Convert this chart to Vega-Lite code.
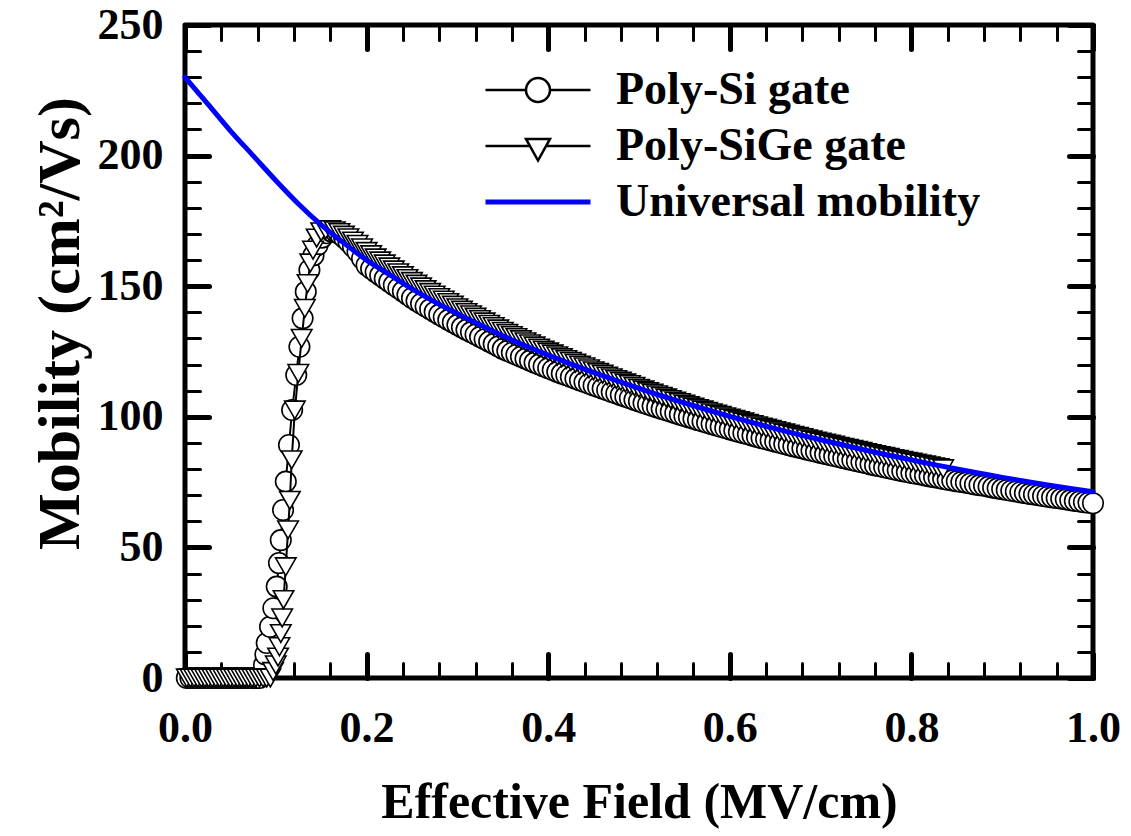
{
  "$schema": "https://vega.github.io/schema/vega-lite/v6.json",
  "width": 908,
  "height": 653,
  "autosize": {"type": "none"},
  "padding": {"left": 185, "top": 25, "right": 38, "bottom": 158},
  "background": "white",
  "config": {
    "view": {"stroke": "black", "strokeWidth": 5, "strokeJoin": "round"},
    "font": "Liberation Serif",
    "axis": {
      "labelFont": "Liberation Serif", "labelFontWeight": "bold", "labelFontSize": 44, "labelColor": "black", "labelFlush": false,
      "titleFont": "Liberation Serif", "titleFontWeight": "bold", "titleFontSize": 50, "titleColor": "black",
      "domain": false, "grid": false, "tickColor": "black", "tickCap": "round"
    },
    "legend": {"labelFont": "Liberation Serif", "labelFontWeight": "bold", "labelColor": "black"}
  },
  "datasets": {
    "si": [
      {"x":0.002,"y":0},{"x":0.006,"y":0},{"x":0.010,"y":0},{"x":0.014,"y":0},{"x":0.018,"y":0},{"x":0.022,"y":0},{"x":0.026,"y":0},{"x":0.030,"y":0},{"x":0.034,"y":0},{"x":0.038,"y":0},{"x":0.042,"y":0},{"x":0.046,"y":0},{"x":0.050,"y":0},{"x":0.054,"y":0},{"x":0.058,"y":0},{"x":0.062,"y":0},{"x":0.066,"y":0},{"x":0.070,"y":0},{"x":0.074,"y":0},{"x":0.078,"y":0},{"x":0.082,"y":0},
      {"x":0.085,"y":1.5},{"x":0.087,"y":5},{"x":0.0885,"y":9},{"x":0.090,"y":13.4},{"x":0.0936,"y":19.6},{"x":0.0973,"y":26.7},{"x":0.101,"y":35},{"x":0.1035,"y":44},{"x":0.1055,"y":52.8},{"x":0.108,"y":64.3},{"x":0.111,"y":75.2},{"x":0.1145,"y":89.2},{"x":0.118,"y":102.6},{"x":0.1225,"y":116},{"x":0.126,"y":126.8},{"x":0.1295,"y":137.7},{"x":0.133,"y":147.9},{"x":0.137,"y":156.2},{"x":0.1415,"y":161.8},{"x":0.146,"y":165.7},{"x":0.151,"y":168.6},{"x":0.156,"y":170.3},{"x":0.161,"y":171},{"x":0.166,"y":170.8},{"x":0.171,"y":169.8},{"x":0.1755,"y":168.5},
      {"x":0.18,"y":167},{"x":0.185,"y":165.1},{"x":0.19,"y":163.2},{"x":0.195,"y":160.6},{"x":0.20,"y":158},{"x":0.205,"y":156.7},{"x":0.21,"y":155.4},{"x":0.215,"y":154.15},{"x":0.22,"y":152.9},{"x":0.225,"y":151.65},{"x":0.23,"y":150.4},{"x":0.235,"y":149.2},{"x":0.24,"y":148},{"x":0.245,"y":146.75},{"x":0.25,"y":145.5},{"x":0.255,"y":144.4},{"x":0.26,"y":143.3},{"x":0.265,"y":142.25},{"x":0.27,"y":141.2},{"x":0.275,"y":140.15},{"x":0.28,"y":139.1},{"x":0.285,"y":138.1},{"x":0.29,"y":137.1},{"x":0.295,"y":136.15},{"x":0.30,"y":135.2},{"x":0.305,"y":134.25},{"x":0.31,"y":133.3},{"x":0.315,"y":132.4},{"x":0.32,"y":131.5},{"x":0.325,"y":130.6},{"x":0.33,"y":129.7},{"x":0.335,"y":128.8},{"x":0.34,"y":127.9},{"x":0.345,"y":126.95},{"x":0.35,"y":126},{"x":0.355,"y":125.25},{"x":0.36,"y":124.5},{"x":0.365,"y":123.75},{"x":0.37,"y":123},{"x":0.375,"y":122.25},{"x":0.38,"y":121.5},{"x":0.385,"y":120.75},{"x":0.39,"y":120},{"x":0.395,"y":119.3},{"x":0.40,"y":118.6},{"x":0.405,"y":117.9},{"x":0.41,"y":117.2},{"x":0.415,"y":116.55},{"x":0.42,"y":115.9},{"x":0.425,"y":115.25},{"x":0.43,"y":114.6},{"x":0.435,"y":113.95},{"x":0.44,"y":113.3},{"x":0.445,"y":112.65},{"x":0.45,"y":112},{"x":0.455,"y":111.4},{"x":0.46,"y":110.8},{"x":0.465,"y":110.15},{"x":0.47,"y":109.5},{"x":0.475,"y":108.9},{"x":0.48,"y":108.3},{"x":0.485,"y":107.7},{"x":0.49,"y":107.1},{"x":0.495,"y":106.5},{"x":0.50,"y":105.9},{"x":0.505,"y":105.3},{"x":0.51,"y":104.7},{"x":0.515,"y":104.15},{"x":0.52,"y":103.6},{"x":0.525,"y":103.05},{"x":0.53,"y":102.5},{"x":0.535,"y":101.95},{"x":0.54,"y":101.4},{"x":0.545,"y":100.85},{"x":0.55,"y":100.3},{"x":0.555,"y":99.8},{"x":0.56,"y":99.3},{"x":0.565,"y":98.75},{"x":0.57,"y":98.2},{"x":0.575,"y":97.7},{"x":0.58,"y":97.2},{"x":0.585,"y":96.7},{"x":0.59,"y":96.2},{"x":0.595,"y":95.7},{"x":0.60,"y":95.2},{"x":0.605,"y":94.7},{"x":0.61,"y":94.2},{"x":0.615,"y":93.75},{"x":0.62,"y":93.3},{"x":0.625,"y":92.8},{"x":0.63,"y":92.3},{"x":0.635,"y":91.85},{"x":0.64,"y":91.4},{"x":0.645,"y":90.95},{"x":0.65,"y":90.5},{"x":0.655,"y":90.05},{"x":0.66,"y":89.6},{"x":0.665,"y":89.15},{"x":0.67,"y":88.7},{"x":0.675,"y":88.3},{"x":0.68,"y":87.9},{"x":0.685,"y":87.45},{"x":0.69,"y":87},{"x":0.695,"y":86.6},{"x":0.70,"y":86.2},{"x":0.705,"y":85.8},{"x":0.71,"y":85.4},{"x":0.715,"y":85},{"x":0.72,"y":84.6},{"x":0.725,"y":84.2},{"x":0.73,"y":83.8},{"x":0.735,"y":83.4},{"x":0.74,"y":83},{"x":0.745,"y":82.6},{"x":0.75,"y":82.2},{"x":0.755,"y":81.8},{"x":0.76,"y":81.4},{"x":0.765,"y":81.05},{"x":0.77,"y":80.7},{"x":0.775,"y":80.3},{"x":0.78,"y":79.9},{"x":0.785,"y":79.55},{"x":0.79,"y":79.2},{"x":0.795,"y":78.85},{"x":0.80,"y":78.5},{"x":0.805,"y":78.2},{"x":0.81,"y":77.9},{"x":0.815,"y":77.55},{"x":0.82,"y":77.2},{"x":0.825,"y":76.9},{"x":0.83,"y":76.6},{"x":0.835,"y":76.25},{"x":0.84,"y":75.9},{"x":0.845,"y":75.6},{"x":0.85,"y":75.3},{"x":0.855,"y":75.05},{"x":0.86,"y":74.8},{"x":0.865,"y":74.45},{"x":0.87,"y":74.1},{"x":0.875,"y":73.85},{"x":0.88,"y":73.6},{"x":0.885,"y":73.25},{"x":0.89,"y":72.9},{"x":0.895,"y":72.6},{"x":0.90,"y":72.3},{"x":0.905,"y":72},{"x":0.91,"y":71.7},{"x":0.915,"y":71.4},{"x":0.92,"y":71.1},{"x":0.925,"y":70.8},{"x":0.93,"y":70.5},{"x":0.935,"y":70.25},{"x":0.94,"y":70},{"x":0.945,"y":69.7},{"x":0.95,"y":69.4},{"x":0.955,"y":69.15},{"x":0.96,"y":68.9},{"x":0.965,"y":68.65},{"x":0.97,"y":68.4},{"x":0.975,"y":68.1},{"x":0.98,"y":67.8},{"x":0.985,"y":67.55},{"x":0.99,"y":67.3},{"x":0.995,"y":67.1},{"x":1.00,"y":66.9}
    ],
    "sige": [
      {"x":0.002,"y":0},{"x":0.006,"y":0},{"x":0.010,"y":0},{"x":0.014,"y":0},{"x":0.018,"y":0},{"x":0.022,"y":0},{"x":0.026,"y":0},{"x":0.030,"y":0},{"x":0.034,"y":0},{"x":0.038,"y":0},{"x":0.042,"y":0},{"x":0.046,"y":0},{"x":0.050,"y":0},{"x":0.054,"y":0},{"x":0.058,"y":0},{"x":0.062,"y":0},{"x":0.066,"y":0},{"x":0.070,"y":0},{"x":0.074,"y":0},{"x":0.078,"y":0},{"x":0.082,"y":0},{"x":0.086,"y":0},{"x":0.090,"y":0},{"x":0.094,"y":0},
      {"x":0.097,"y":2.5},{"x":0.100,"y":5},{"x":0.1025,"y":8},{"x":0.104,"y":12},{"x":0.1055,"y":17},{"x":0.107,"y":23},{"x":0.1085,"y":30},{"x":0.111,"y":42.6},{"x":0.1135,"y":56.7},{"x":0.1155,"y":68},{"x":0.1175,"y":83.5},{"x":0.121,"y":102.6},{"x":0.1248,"y":116.6},{"x":0.1285,"y":130},{"x":0.132,"y":141.5},{"x":0.135,"y":151},{"x":0.138,"y":158.9},{"x":0.141,"y":163.8},{"x":0.145,"y":168.4},{"x":0.150,"y":170.8},{"x":0.155,"y":171.6},{"x":0.160,"y":171.6},{"x":0.165,"y":171.2},{"x":0.170,"y":170.5},{"x":0.175,"y":169.5},
      {"x":0.18,"y":168.5},{"x":0.185,"y":167.25},{"x":0.19,"y":166},{"x":0.195,"y":164.65},{"x":0.20,"y":163.3},{"x":0.205,"y":162.05},{"x":0.21,"y":160.8},{"x":0.215,"y":159.65},{"x":0.22,"y":158.5},{"x":0.225,"y":157.35},{"x":0.23,"y":156.2},{"x":0.235,"y":155.1},{"x":0.24,"y":154},{"x":0.245,"y":152.9},{"x":0.25,"y":151.8},{"x":0.255,"y":150.75},{"x":0.26,"y":149.7},{"x":0.265,"y":148.65},{"x":0.27,"y":147.6},{"x":0.275,"y":146.6},{"x":0.28,"y":145.6},{"x":0.285,"y":144.65},{"x":0.29,"y":143.7},{"x":0.295,"y":142.7},{"x":0.30,"y":141.7},{"x":0.305,"y":140.8},{"x":0.31,"y":139.9},{"x":0.315,"y":139},{"x":0.32,"y":138.1},{"x":0.325,"y":137.2},{"x":0.33,"y":136.3},{"x":0.335,"y":135.4},{"x":0.34,"y":134.5},{"x":0.345,"y":133.6},{"x":0.35,"y":132.7},{"x":0.355,"y":131.9},{"x":0.36,"y":131.1},{"x":0.365,"y":130.3},{"x":0.37,"y":129.5},{"x":0.375,"y":128.7},{"x":0.38,"y":127.9},{"x":0.385,"y":127.1},{"x":0.39,"y":126.3},{"x":0.395,"y":125.55},{"x":0.40,"y":124.8},{"x":0.405,"y":124.05},{"x":0.41,"y":123.3},{"x":0.415,"y":122.6},{"x":0.42,"y":121.9},{"x":0.425,"y":121.2},{"x":0.43,"y":120.5},{"x":0.435,"y":119.8},{"x":0.44,"y":119.1},{"x":0.445,"y":118.35},{"x":0.45,"y":117.6},{"x":0.455,"y":116.95},{"x":0.46,"y":116.3},{"x":0.465,"y":115.6},{"x":0.47,"y":114.9},{"x":0.475,"y":114.25},{"x":0.48,"y":113.6},{"x":0.485,"y":112.95},{"x":0.49,"y":112.3},{"x":0.495,"y":111.6},{"x":0.50,"y":110.9},{"x":0.505,"y":110.25},{"x":0.51,"y":109.6},{"x":0.515,"y":109},{"x":0.52,"y":108.4},{"x":0.525,"y":107.8},{"x":0.53,"y":107.2},{"x":0.535,"y":106.6},{"x":0.54,"y":106},{"x":0.545,"y":105.4},{"x":0.55,"y":104.8},{"x":0.555,"y":104.25},{"x":0.56,"y":103.7},{"x":0.565,"y":103.15},{"x":0.57,"y":102.6},{"x":0.575,"y":102.05},{"x":0.58,"y":101.5},{"x":0.585,"y":101},{"x":0.59,"y":100.5},{"x":0.595,"y":100},{"x":0.60,"y":99.5},{"x":0.605,"y":99},{"x":0.61,"y":98.5},{"x":0.615,"y":98},{"x":0.62,"y":97.5},{"x":0.625,"y":97},{"x":0.63,"y":96.5},{"x":0.635,"y":96.05},{"x":0.64,"y":95.6},{"x":0.645,"y":95.15},{"x":0.65,"y":94.7},{"x":0.655,"y":94.25},{"x":0.66,"y":93.8},{"x":0.665,"y":93.35},{"x":0.67,"y":92.9},{"x":0.675,"y":92.45},{"x":0.68,"y":92},{"x":0.685,"y":91.55},{"x":0.69,"y":91.1},{"x":0.695,"y":90.7},{"x":0.70,"y":90.3},{"x":0.705,"y":89.9},{"x":0.71,"y":89.5},{"x":0.715,"y":89.1},{"x":0.72,"y":88.7},{"x":0.725,"y":88.3},{"x":0.73,"y":87.9},{"x":0.735,"y":87.5},{"x":0.74,"y":87.1},{"x":0.745,"y":86.7},{"x":0.75,"y":86.3},{"x":0.755,"y":85.9},{"x":0.76,"y":85.5},{"x":0.765,"y":85.15},{"x":0.77,"y":84.8},{"x":0.775,"y":84.4},{"x":0.78,"y":84},{"x":0.785,"y":83.65},{"x":0.79,"y":83.3},{"x":0.795,"y":82.95},{"x":0.80,"y":82.6},{"x":0.805,"y":82.25},{"x":0.81,"y":81.9},{"x":0.815,"y":81.55},{"x":0.82,"y":81.2},{"x":0.825,"y":80.85},{"x":0.83,"y":80.5},{"x":0.835,"y":80.1}
    ],
    "uni": [
      {"x":0,"y":230,"series":"Universal mobility"},{"x":0.025,"y":219.8,"series":"Universal mobility"},{"x":0.05,"y":209.5,"series":"Universal mobility"},{"x":0.075,"y":200,"series":"Universal mobility"},{"x":0.1,"y":190.5,"series":"Universal mobility"},{"x":0.125,"y":181.5,"series":"Universal mobility"},{"x":0.15,"y":173.5,"series":"Universal mobility"},{"x":0.175,"y":166.5,"series":"Universal mobility"},{"x":0.2,"y":160,"series":"Universal mobility"},{"x":0.225,"y":154.5,"series":"Universal mobility"},{"x":0.25,"y":149,"series":"Universal mobility"},{"x":0.275,"y":144,"series":"Universal mobility"},{"x":0.3,"y":139.5,"series":"Universal mobility"},{"x":0.325,"y":135.2,"series":"Universal mobility"},{"x":0.35,"y":131,"series":"Universal mobility"},{"x":0.375,"y":127.2,"series":"Universal mobility"},{"x":0.4,"y":123.6,"series":"Universal mobility"},{"x":0.425,"y":120.2,"series":"Universal mobility"},{"x":0.45,"y":117,"series":"Universal mobility"},{"x":0.475,"y":113.9,"series":"Universal mobility"},{"x":0.5,"y":110.9,"series":"Universal mobility"},{"x":0.525,"y":108,"series":"Universal mobility"},{"x":0.55,"y":105.3,"series":"Universal mobility"},{"x":0.575,"y":102.7,"series":"Universal mobility"},{"x":0.6,"y":100.2,"series":"Universal mobility"},{"x":0.625,"y":97.8,"series":"Universal mobility"},{"x":0.65,"y":95.5,"series":"Universal mobility"},{"x":0.675,"y":93.3,"series":"Universal mobility"},{"x":0.7,"y":91.2,"series":"Universal mobility"},{"x":0.725,"y":89.2,"series":"Universal mobility"},{"x":0.75,"y":87.2,"series":"Universal mobility"},{"x":0.775,"y":85.3,"series":"Universal mobility"},{"x":0.8,"y":83.5,"series":"Universal mobility"},{"x":0.825,"y":81.7,"series":"Universal mobility"},{"x":0.85,"y":80,"series":"Universal mobility"},{"x":0.875,"y":78.4,"series":"Universal mobility"},{"x":0.9,"y":76.8,"series":"Universal mobility"},{"x":0.925,"y":75.3,"series":"Universal mobility"},{"x":0.95,"y":73.9,"series":"Universal mobility"},{"x":0.975,"y":72.6,"series":"Universal mobility"},{"x":1.0,"y":71.3,"series":"Universal mobility"}
    ]
  },
  "resolve": {"axis": {"x": "independent", "y": "independent"}},
  "layer": [
    {
      "data": {"name": "si"},
      "mark": {"type": "line", "color": "black", "strokeWidth": 2},
      "encoding": {
        "x": {"field": "x", "type": "quantitative", "scale": {"domain": [0, 1], "nice": false, "zero": false},
          "axis": {"orient": "bottom", "values": [0, 0.2, 0.4, 0.6, 0.8, 1.0], "format": ".1f", "tickSize": -24, "tickWidth": 5, "labelPadding": 52, "title": "Effective Field (MV/cm)", "titleY": 139, "titleBaseline": "alphabetic"}},
        "y": {"field": "y", "type": "quantitative", "scale": {"domain": [0, 250], "nice": false, "zero": false},
          "axis": {"orient": "left", "values": [0, 50, 100, 150, 200, 250], "format": "d", "tickSize": -24, "tickWidth": 5, "labelPadding": 46, "title": "Mobility (cm²/Vs)", "titleFontSize": 60, "titleX": -125, "titleY": 298, "titleAngle": -90, "titleBaseline": "middle", "titleAlign": "center"}}
      }
    },
    {
      "data": {"name": "si"},
      "mark": {"type": "point", "shape": "circle", "size": 420, "filled": true, "fill": "white", "stroke": "black", "strokeWidth": 1.6, "opacity": 1},
      "encoding": {
        "x": {"field": "x", "type": "quantitative",
          "axis": {"orient": "bottom", "values": [0.04, 0.08, 0.12, 0.16, 0.24, 0.28, 0.32, 0.36, 0.44, 0.48, 0.52, 0.56, 0.64, 0.68, 0.72, 0.76, 0.84, 0.88, 0.92, 0.96], "tickSize": -15, "tickWidth": 3, "labels": false, "title": null}},
        "y": {"field": "y", "type": "quantitative",
          "axis": {"orient": "left", "values": [10, 20, 30, 40, 60, 70, 80, 90, 110, 120, 130, 140, 160, 170, 180, 190, 210, 220, 230, 240], "tickSize": -15, "tickWidth": 3, "labels": false, "title": null}}
      }
    },
    {
      "data": {"name": "sige"},
      "mark": {"type": "line", "color": "black", "strokeWidth": 2},
      "encoding": {
        "x": {"field": "x", "type": "quantitative",
          "axis": {"orient": "top", "values": [0, 0.2, 0.4, 0.6, 0.8, 1.0], "tickSize": -24, "tickWidth": 5, "labels": false, "title": null}},
        "y": {"field": "y", "type": "quantitative",
          "axis": {"orient": "right", "values": [0, 50, 100, 150, 200, 250], "tickSize": -24, "tickWidth": 5, "labels": false, "title": null}}
      }
    },
    {
      "data": {"name": "sige"},
      "mark": {"type": "point", "shape": "triangle-down", "size": 420, "filled": true, "fill": "white", "stroke": "black", "strokeWidth": 1.6, "opacity": 1},
      "encoding": {
        "x": {"field": "x", "type": "quantitative",
          "axis": {"orient": "top", "values": [0.04, 0.08, 0.12, 0.16, 0.24, 0.28, 0.32, 0.36, 0.44, 0.48, 0.52, 0.56, 0.64, 0.68, 0.72, 0.76, 0.84, 0.88, 0.92, 0.96], "tickSize": -15, "tickWidth": 3, "labels": false, "title": null}},
        "y": {"field": "y", "type": "quantitative",
          "axis": {"orient": "right", "values": [10, 20, 30, 40, 60, 70, 80, 90, 110, 120, 130, 140, 160, 170, 180, 190, 210, 220, 230, 240], "tickSize": -15, "tickWidth": 3, "labels": false, "title": null}}
      }
    },
    {
      "data": {"name": "uni"},
      "mark": {"type": "line", "strokeWidth": 5, "interpolate": "monotone", "strokeCap": "round"},
      "encoding": {
        "x": {"field": "x", "type": "quantitative", "axis": null},
        "y": {"field": "y", "type": "quantitative", "axis": null},
        "color": {"field": "series", "type": "nominal",
          "scale": {"domain": ["Poly-Si gate", "Poly-SiGe gate", "Universal mobility"], "range": ["black", "black", "#0000ff"]},
          "legend": {
            "orient": "none", "legendX": 330, "legendY": 42, "title": null, "padding": 0,
            "symbolSize": 900, "labelOffset": 55, "rowPadding": 10, "labelFontSize": 46, "labelLimit": 0, "labelBaseline": "middle",
            "encode": {"symbols": {"update": {
              "shape": {"signal": "datum.value === 'Poly-Si gate' ? 'M-3.5,0H-0.8M0.8,0H3.5M-0.8,0A0.8,0.8 0 1,0 0.8,0A0.8,0.8 0 1,0 -0.8,0Z' : datum.value === 'Poly-SiGe gate' ? 'M-3.5,0H-0.54M0.54,0H3.5M-0.8,-0.47L0.8,-0.47L0,0.97Z' : 'M-3.5,0H3.5'"},
              "fill": {"value": "white"},
              "fillOpacity": {"value": 1},
              "opacity": {"value": 1},
              "stroke": {"signal": "datum.value === 'Universal mobility' ? '#0000ff' : 'black'"},
              "strokeWidth": {"signal": "datum.value === 'Universal mobility' ? 5 : 2.5"}
            }}}
          }
        }
      }
    }
  ]
}
